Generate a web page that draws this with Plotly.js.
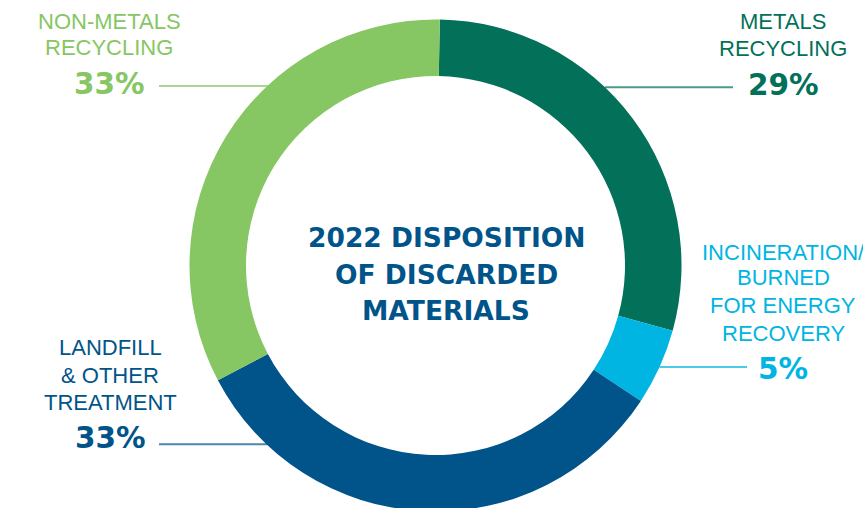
<!DOCTYPE html>
<html>
<head>
<meta charset="utf-8">
<script src="https://cdn.plot.ly/plotly-3.0.1.min.js"></script>
<style>
  html, body { margin: 0; padding: 0; overflow: hidden; background: #ffffff; }
  #chart { width: 863px; height: 520px; }
</style>
</head>
<body>
<div id="chart"></div>
<script>
// ---- Data ----
const categories = ["METALS RECYCLING", "INCINERATION/ BURNED FOR ENERGY RECOVERY", "LANDFILL & OTHER TREATMENT", "NON-METALS RECYCLING"];
const values = [29, 5, 33, 33];
const percentLabels = ["29%", "5%", "33%", "33%"];
const labelLines = [
  ["METALS", "RECYCLING"],
  ["INCINERATION/", "BURNED", "FOR ENERGY", "RECOVERY"],
  ["LANDFILL", "& OTHER", "TREATMENT"],
  ["NON-METALS", "RECYCLING"]
];
const colors = ["#03705A", "#00B5E2", "#00548A", "#86C663"];
const titleLines = ["2022 DISPOSITION", "OF DISCARDED", "MATERIALS"];

// ---- Layout helpers (pixel -> paper) ----
const W = 863, H = 520;
const px = x => x / W;
const py = y => (H - y) / H;

// donut geometry
const cx = 435.5, cy = 265.5, R = 246;

// label positions (text centre x, line centres y, percent centre y, leader line)
const labelPos = [
  { x: 783, lines: [21.8, 48.5], pct: 85.5, lineY: 87.3, lx0: 605, lx1: 733 },
  { x: 783, lines: [252.5, 277.5, 305.8, 333.2], pct: 369.3, lineY: 367, lx0: 659.5, lx1: 747 },
  { x: 110, lines: [347.5, 375.8, 402.5], pct: 437.8, lineY: 444.3, lx0: 159, lx1: 267 },
  { x: 109, lines: [21.8, 47.5], pct: 84.5, lineY: 86, lx0: 159, lx1: 268 }
];

const annotations = [];
const shapes = [];
labelPos.forEach((p, i) => {
  labelLines[i].forEach((t, j) => {
    annotations.push({
      text: t, xref: "paper", yref: "paper", x: px(p.x), y: py(p.lines[j]),
      xanchor: "center", yanchor: "middle", showarrow: false,
      font: { family: "Liberation Sans, Arial, sans-serif", size: 22, color: colors[i] }
    });
  });
  annotations.push({
    text: "<b>" + percentLabels[i] + "</b>", xref: "paper", yref: "paper", x: px(p.x), y: py(p.pct),
    xanchor: "center", yanchor: "middle", showarrow: false,
    font: { family: "DejaVu Sans, sans-serif", size: 29.5, color: colors[i] }
  });
  shapes.push({
    type: "line", xref: "paper", yref: "paper",
    x0: px(p.lx0), x1: px(p.lx1), y0: py(p.lineY), y1: py(p.lineY),
    line: { color: colors[i], width: 2 }, opacity: 0.7
  });
});

const titleY = [237.5, 274.2, 310.2];
titleLines.forEach((t, j) => {
  annotations.push({
    text: "<b>" + t + "</b>", xref: "paper", yref: "paper", x: px(446), y: py(titleY[j]),
    xanchor: "center", yanchor: "middle", showarrow: false,
    font: { family: "DejaVu Sans, sans-serif", size: 26.5, color: "#00548A" }
  });
});

const trace = {
  type: "pie",
  labels: categories,
  values: values,
  sort: false,
  direction: "clockwise",
  rotation: 1,
  hole: 189.5 / 246,
  marker: { colors: colors, line: { width: 0 } },
  textinfo: "none",
  hoverinfo: "skip",
  domain: { x: [px(cx - R), px(cx + R)], y: [py(cy + R), py(cy - R)] }
};

const layout = {
  width: W, height: H,
  margin: { l: 0, r: 0, t: 0, b: 0 },
  paper_bgcolor: "#ffffff",
  showlegend: false,
  annotations: annotations,
  shapes: shapes
};

Plotly.newPlot("chart", [trace], layout, { displayModeBar: false, staticPlot: true });
</script>
</body>
</html>
